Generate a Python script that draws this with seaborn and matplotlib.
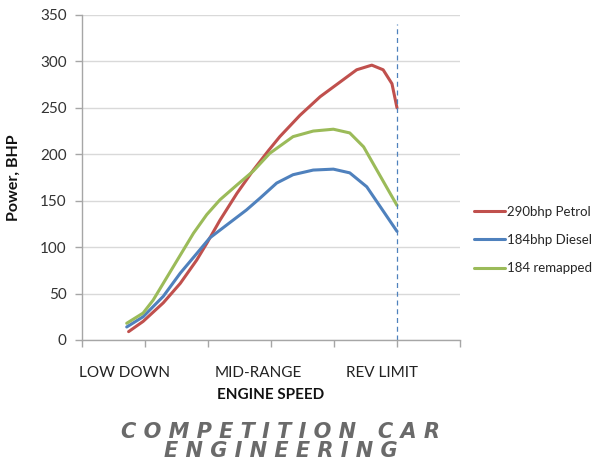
import pandas as pd
import matplotlib.pyplot as plt
import seaborn as sns

# Values (x in engine-speed units, y in BHP)
petrol_x = [0.74, 0.97, 1.29, 1.56, 1.82, 1.98, 2.19, 2.46, 2.72, 2.96, 3.14, 3.46, 3.78, 4.10, 4.36, 4.60, 4.78, 4.92, 5.0]
petrol_y = [9, 20, 40, 61, 86, 104, 129, 158, 183, 204, 219, 242, 262, 278, 291, 296, 291, 276, 250]

diesel_x = [0.71, 0.97, 1.29, 1.56, 1.82, 2.03, 2.30, 2.61, 2.83, 3.09, 3.35, 3.67, 3.99, 4.25, 4.52, 4.73, 5.0]
diesel_y = [14, 25, 47, 72, 93, 110, 124, 140, 153, 169, 178, 183, 184, 180, 165, 144, 117]

remap_x = [0.71, 0.97, 1.13, 1.29, 1.45, 1.61, 1.77, 1.98, 2.19, 2.46, 2.72, 2.98, 3.35, 3.67, 3.99, 4.25, 4.47, 4.68, 4.89, 5.0]
remap_y = [18, 29, 43, 61, 79, 97, 115, 135, 151, 167, 182, 201, 219, 225, 227, 223, 208, 183, 158, 145]

series_names = ["290bhp Petrol", "184bhp Diesel", "184 remapped"]
series_colors = ["#C0504D", "#4F81BD", "#9BBB59"]

speed_labels = ["LOW DOWN", "MID-RANGE", "REV LIMIT"]
speed_label_pos = [0.67, 2.79, 4.76]
rev_limit = 5.0

df = pd.concat([
    pd.DataFrame({"speed": petrol_x, "power": petrol_y, "engine": series_names[0]}),
    pd.DataFrame({"speed": diesel_x, "power": diesel_y, "engine": series_names[1]}),
    pd.DataFrame({"speed": remap_x, "power": remap_y, "engine": series_names[2]}),
])

sns.set_style("white")
plt.rcParams['font.family'] = ['Lato', 'DejaVu Sans']
plt.rcParams['lines.solid_joinstyle'] = 'round'
plt.rcParams['lines.solid_capstyle'] = 'round'

fig = plt.figure(figsize=(6.1, 4.73), dpi=100)
ax = fig.add_axes([0.1344, 0.2812, 0.6197, 0.6871])

sns.lineplot(data=df, x="speed", y="power", hue="engine", hue_order=series_names,
             palette=series_colors, sort=False, linewidth=2.2, ax=ax, legend=True)

# rev limit marker
ax.axvline(rev_limit, ymin=0, ymax=340 / 350, color="#4F81BD", linestyle=(0, (4, 3)), linewidth=0.9)

ax.set_xlim(0, 6)
ax.set_ylim(0, 350)
ax.set_yticks(range(0, 351, 50))
ax.set_xticks(range(0, 7))
ax.set_xticklabels([])
ax.yaxis.grid(True, color="#D9D9D9", linewidth=1)
ax.set_axisbelow(True)
for s in ["top", "right"]:
    ax.spines[s].set_visible(False)
for s in ["left", "bottom"]:
    ax.spines[s].set_color("#A6A6A6")
    ax.spines[s].set_linewidth(1)
ax.tick_params(axis="both", direction="out", length=5, color="#A6A6A6", width=1,
               labelsize=11, labelcolor="#333333", left=True, bottom=True)
ax.tick_params(axis="y", pad=6)

for lab, pos in zip(speed_labels, speed_label_pos):
    ax.text(pos, -0.08, lab, transform=ax.get_xaxis_transform(), ha="center", va="top",
            fontsize=11, color="#222222")

ax.set_xlabel("ENGINE SPEED", fontsize=11, fontweight="bold", color="#111111", labelpad=26)
ax.set_ylabel("Power, BHP", fontsize=11.5, fontweight="bold", color="#111111", labelpad=14)

leg = ax.legend(loc="center left", bbox_to_anchor=(0.757, 0.4926), bbox_transform=fig.transFigure,
                frameon=False, fontsize=9.5, handlelength=2.4, handletextpad=0.1,
                labelspacing=1.25, title=None)
for line in leg.get_lines():
    line.set_linewidth(2.2)

# logo text
fig.text(0.46, 0.087, "C O M P E T I T I O N   C A R", ha="center", va="center", fontsize=15,
         fontweight="bold", style="italic", color="#6A6A6A", family="DejaVu Sans")
fig.text(0.46, 0.047, "E N G I N E E R I N G", ha="center", va="center", fontsize=15,
         fontweight="bold", style="italic", color="#6A6A6A", family="DejaVu Sans")

plt.savefig("out.png", dpi=100)
